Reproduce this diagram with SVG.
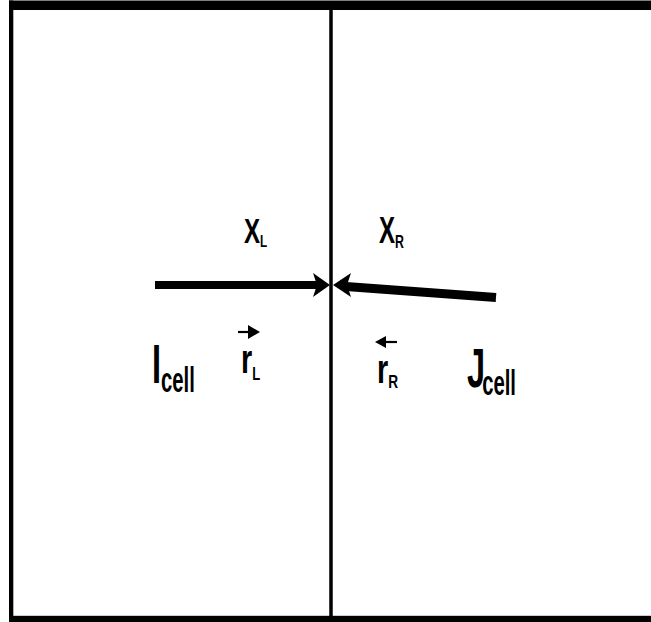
<svg xmlns="http://www.w3.org/2000/svg" width="651" height="622" viewBox="0 0 651 622">
<style>
.t{font-family:"Liberation Sans",Arial,sans-serif;font-weight:bold;fill:#000}
.frame{fill:#000}
.shaft{stroke:#000;fill:none;stroke-linecap:butt}
</style>
<rect x="0" y="0" width="651" height="622" fill="#fff"/>
<g id="frame">
<rect class="frame" x="9" y="0.5" width="642" height="9.5"/>
<rect class="frame" x="9" y="0.5" width="4.3" height="621.5"/>
<rect class="frame" x="9" y="615.8" width="642" height="6.2"/>
</g>
<g id="interface">
<line x1="331" y1="10" x2="331" y2="616" stroke="#000" stroke-width="3.5"/>
</g>
<g id="connectors">
<line class="shaft" x1="155" y1="285" x2="318" y2="285" stroke-width="8"/>
<polygon points="313,273 330,285 313,297 317,285" fill="#000"/>
<line class="shaft" x1="346" y1="286.5" x2="496" y2="297.5" stroke-width="9"/>
<polygon points="351,273 333,285 351,297 347,285" fill="#000"/>
</g>
<g id="label-XL">
<text class="t" transform="translate(244,243) scale(0.69,1)" font-size="35">X<tspan font-size="17" dy="4">L</tspan></text>
</g>
<g id="label-XR">
<text class="t" transform="translate(379,243) scale(0.65,1)" font-size="37">X<tspan font-size="19" dy="5">R</tspan></text>
</g>
<g id="label-Icell">
<text class="t" transform="translate(152,383) scale(0.58,1)" font-size="56">I<tspan font-size="35" dy="9">cell</tspan></text>
</g>
<g id="label-rL">
<line class="shaft" x1="238" y1="332" x2="250" y2="332" stroke-width="2.2"/>
<polygon points="248,325 260,332 248,339" fill="#000"/>
<text class="t" transform="translate(241,373) scale(0.72,1)" font-size="40">r<tspan font-size="18" dy="7">L</tspan></text>
</g>
<g id="label-rR">
<line class="shaft" x1="384" y1="342" x2="397" y2="342" stroke-width="2.2"/>
<polygon points="386,336 375,342 386,348" fill="#000"/>
<text class="t" transform="translate(377,383) scale(0.72,1)" font-size="40">r<tspan font-size="19" dy="5">R</tspan></text>
</g>
<g id="label-Jcell">
<text class="t" transform="translate(467,387) scale(0.58,1)" font-size="56">J<tspan font-size="35" dx="-5" dy="8">cell</tspan></text>
</g>
</svg>
